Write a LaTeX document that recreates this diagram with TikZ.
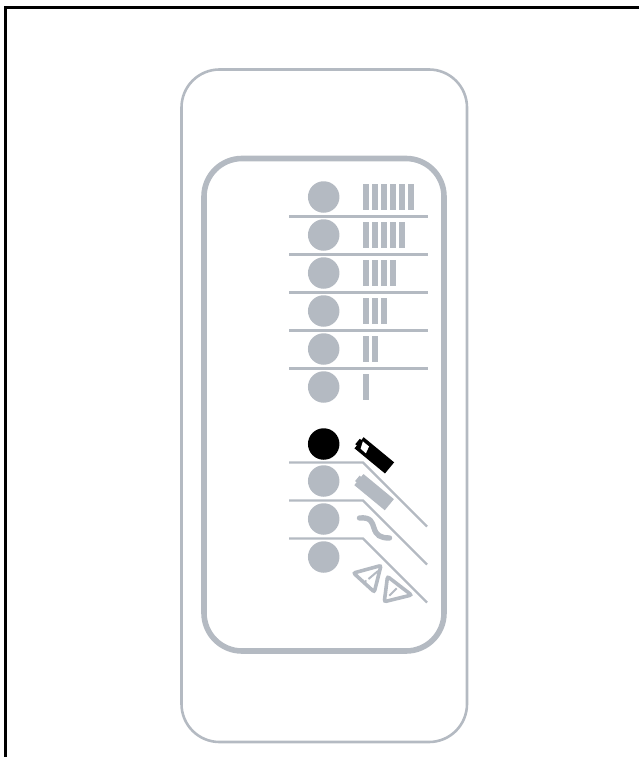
\documentclass[tikz,border=0pt]{standalone}
\definecolor{panel}{RGB}{180, 186, 194}
\usepackage{tikz}
\usetikzlibrary{positioning}

\begin{document}
\begin{tikzpicture}[
        x=1pt, y=-1pt,
        lamp/.style={circle, fill=panel, minimum size=31.5pt, inner sep=0pt},
        lampon/.style={lamp, fill=black},
        tick/.style={panel, line width=5.6pt},
        rule/.style={panel, line width=2.4pt},
        warn/.style={panel, line width=3.6pt, rounded corners=2pt},
        mark line/.style={panel, line width=2pt}
    ]
        \useasboundingbox (0,0) rectangle (639,757);
        % frame
        \draw[line width=3pt] (5.5,757) -- (5.5,7.5) -- (639,7.5);
        % housing and window
        \draw[panel, line width=2.6pt, rounded corners=38pt] (181.5,69.5) rectangle (467,742);
        \draw[panel, line width=5.6pt, rounded corners=38pt] (204,158.5) rectangle (444,651);
        % level lamps with their ticks
        \foreach \row/\ypos/\num in {a/197/6, b/235/5, c/273/4, d/311/3, e/349/2, f/387/1} {
            \node[lamp] (\row) at (323.7,\ypos) {};
            \foreach \t in {1,...,\num}
                \draw[tick] ({357+9*\t},\ypos-13) -- ({357+9*\t},\ypos+13);
        }
        \foreach \ypos in {216.5, 254.5, 292.5, 330.5, 368.5}
            \draw[rule] (289,\ypos) -- (428,\ypos);
        % status lamps
        \node[lampon] (g) at (323.7,444) {};
        \node[lamp] (h) at (323.7,481) {};
        \node[lamp] (i) at (323.7,519) {};
        \node[lamp] (j) at (323.7,557) {};
        \foreach \ypos in {462.5, 500.5, 538.5}
            \draw[rule] (289,\ypos) -- (363,\ypos) -- (427,\ypos+64);
        % batteries
        \begin{scope}[shift={(374.5,455.5)}, rotate=-39.5]
            \fill[black] (-20,-7.2) rectangle (19.5,7.2);
            \fill[black] (-22,-3.5) rectangle (-19,3.5);
            \fill[white] (-18,-3.5) -- (-10,-3.5) -- (-8,3.8) -- (-15,3.6) -- cycle;
        \end{scope}
        \begin{scope}[shift={(374.3,492.3)}, rotate=-39.5]
            \fill[panel] (-20,-7.2) rectangle (19.5,7.2);
            \fill[panel] (-22,-3.5) rectangle (-19,3.5);
        \end{scope}
        % mains
        \draw[panel, line width=5.4pt, line cap=round] (359.5,518) .. controls (371,517) and (372,522) .. (374,528) .. controls (376,535) and (380,538) .. (389.5,538);
        % warning triangles
        \draw[warn] (353.5,573) -- (381,565.5) -- (374.3,592) -- cycle;
        \draw[mark line] (378,571) -- (368.5,579);
        \fill[panel] (365.7,581) circle (1.2pt);
        \draw[warn] (387.5,576.5) -- (411.5,595) -- (384.3,601.7) -- cycle;
        \draw[mark line] (396.7,588.3) -- (389.3,595.7);
        \fill[panel] (398.5,586) circle (1.2pt);
    \end{tikzpicture}
\end{document}
